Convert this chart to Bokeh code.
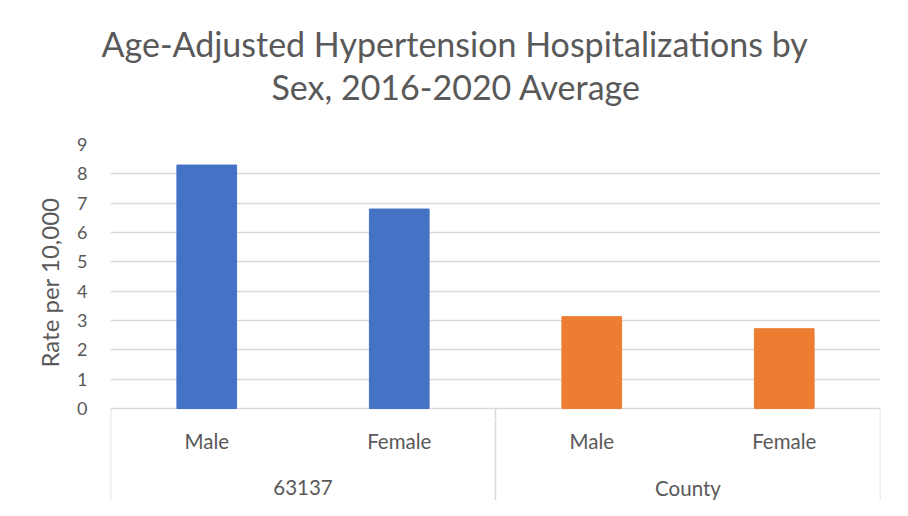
from bokeh.plotting import figure
from bokeh.models import Range1d, FixedTicker, Title
from bokeh.layouts import column
from bokeh.embed import file_html
from bokeh.resources import INLINE
from bokeh.core.properties import value

# ---- data ----
groups = ["63137", "63137", "County", "County"]
sexes = ["Male", "Female", "Male", "Female"]
rates = [8.3, 6.8, 3.13, 2.72]
bar_colors = ["#4472C4", "#4472C4", "#ED7D31", "#ED7D31"]
y_ticks = [0, 1, 2, 3, 4, 5, 6, 7, 8, 9]
title_lines = ["Age-Adjusted Hypertension Hospitalizations by",
               "Sex, 2016-2020 Average"]
y_label = "Rate per 10,000"

FONT = "Lato"
TXT = "#595959"
GRID = "#d9d9d9"
PX_PER_UNIT = 264 / 9.0
EXT = 12  # px of category box drawn inside the top figure

xpos = [i + 0.5 for i in range(len(sexes))]
group_names = []
group_bounds = [0]
for i, g in enumerate(groups):
    if not group_names or group_names[-1] != g:
        group_names.append(g)
        if i > 0:
            group_bounds.append(i)
group_bounds.append(len(groups))
group_centers = [(group_bounds[k] + group_bounds[k + 1]) / 2 for k in range(len(group_names))]

xr = Range1d(0, len(sexes))
ylow = -EXT / PX_PER_UNIT

p = figure(width=892, height=420, x_range=xr, y_range=Range1d(ylow, 9),
           output_backend="svg", toolbar_location=None, x_axis_location=None,
           min_border_left=110, min_border_right=12, min_border_top=144,
           min_border_bottom=0)
p.vbar(x=xpos, top=rates, width=0.31, color=bar_colors)
p.segment(x0=group_bounds, y0=[0] * len(group_bounds), x1=group_bounds,
          y1=[ylow] * len(group_bounds), line_color=GRID, line_width=1.5)
p.xgrid.visible = False
p.ygrid.grid_line_color = GRID
p.ygrid.grid_line_width = 1.5
p.outline_line_color = None

ax = p.yaxis[0]
ax.ticker = FixedTicker(ticks=y_ticks)
ax.axis_line_color = None
ax.major_tick_line_color = None
ax.minor_tick_line_color = None
ax.major_label_text_font = FONT
ax.major_label_text_font_size = "18px"
ax.major_label_text_color = TXT
ax.major_label_standoff = 17
ax.axis_label = y_label
ax.axis_label_text_font = FONT
ax.axis_label_text_font_size = "24px"
ax.axis_label_text_font_style = "normal"
ax.axis_label_text_color = TXT
ax.axis_label_standoff = 10

p.title.text = title_lines[0]
p.title.align = "left"
p.title.offset = -9
p.title.standoff = 0
p.title.text_font = FONT
p.title.text_font_size = "34px"
p.title.text_font_style = "normal"
p.title.text_color = TXT
p.add_layout(Title(text=" ", align="left", text_font=FONT,
                   text_font_size="30px", text_color=TXT, standoff=0), "above")
p.add_layout(Title(text=title_lines[1], align="left", offset=161,
                   text_font=FONT, text_font_size="34px", standoff=0,
                   text_font_style="normal", text_color=TXT), "above")

b = figure(width=892, height=80, x_range=xr, y_range=Range1d(-92, -EXT),
           output_backend="svg", toolbar_location=None,
           x_axis_location=None, y_axis_location=None,
           min_border_left=110, min_border_right=12, min_border_top=0,
           min_border_bottom=0)
b.grid.visible = False
b.outline_line_color = None
b.segment(x0=group_bounds, y0=[-EXT] * len(group_bounds), x1=group_bounds,
          y1=[-92] * len(group_bounds), line_color=GRID, line_width=1.5)
b.text(x=xpos, y=[-32] * len(xpos), text=sexes, text_align="center",
       text_baseline="middle", text_font=value(FONT), text_font_size="20.5px",
       text_color=TXT)
b.text(x=group_centers, y=[-79] * len(group_centers), text=group_names,
       text_align="center", text_baseline="middle", text_font=value(FONT),
       text_font_size="20.5px", text_color=TXT)

layout = column(p, b, spacing=0)
open("out.html", "w").write(file_html(layout, INLINE))
